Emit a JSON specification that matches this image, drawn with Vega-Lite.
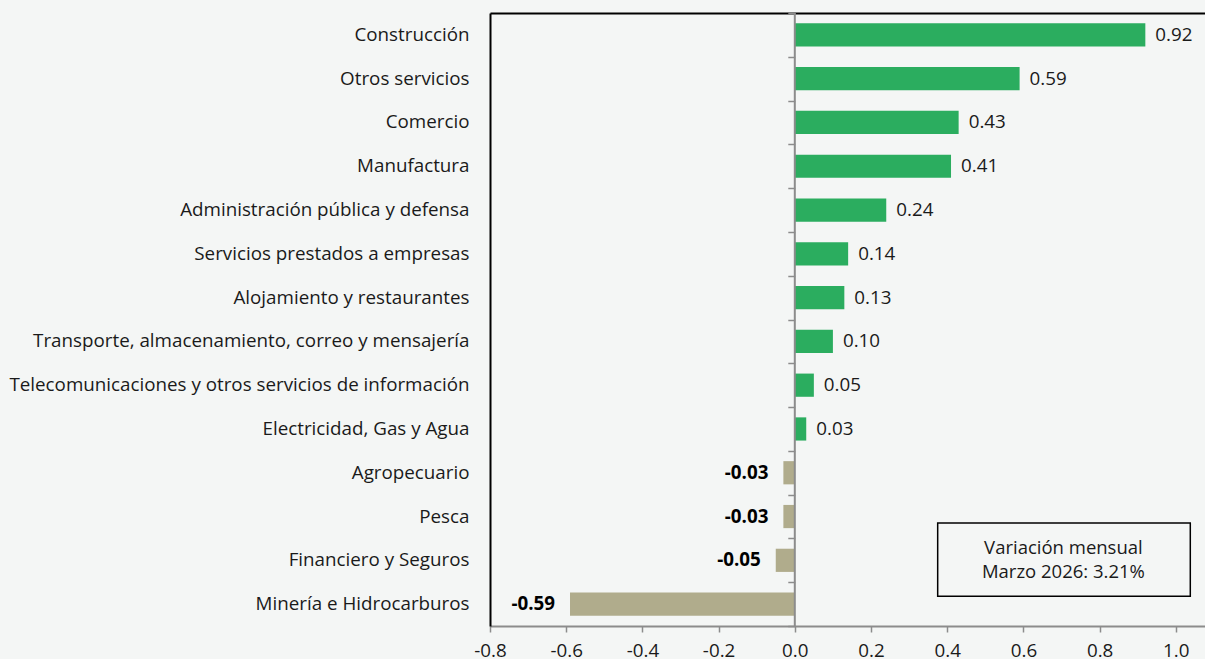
{
  "$schema": "https://vega.github.io/schema/vega-lite/v6.json",
  "width": 715,
  "height": 613,
  "autosize": {"type": "none"},
  "padding": {"left": 490, "top": 13, "right": 0, "bottom": 33},
  "background": "#f4f6f5",
  "view": {"stroke": null},
  "config": {
    "font": "Open Sans",
    "locale": {"number": {"decimal": ".", "thousands": ",", "grouping": [3], "currency": ["$", ""], "minus": "-"}}
  },
  "datasets": {
    "bars": [
      {"sector": "Construcción", "value": 0.92},
      {"sector": "Otros servicios", "value": 0.59},
      {"sector": "Comercio", "value": 0.43},
      {"sector": "Manufactura", "value": 0.41},
      {"sector": "Administración pública y defensa", "value": 0.24},
      {"sector": "Servicios prestados a empresas", "value": 0.14},
      {"sector": "Alojamiento y restaurantes", "value": 0.13},
      {"sector": "Transporte, almacenamiento, correo y mensajería", "value": 0.10},
      {"sector": "Telecomunicaciones y otros servicios de información", "value": 0.05},
      {"sector": "Electricidad, Gas y Agua", "value": 0.03},
      {"sector": "Agropecuario", "value": -0.03},
      {"sector": "Pesca", "value": -0.03},
      {"sector": "Financiero y Seguros", "value": -0.05},
      {"sector": "Minería e Hidrocarburos", "value": -0.59}
    ]
  },
  "resolve": {"axis": {"x": "independent", "y": "independent"}},
  "layer": [
    {
      "data": {"name": "bars"},
      "mark": {"type": "bar", "height": {"band": 0.53}},
      "encoding": {
        "y": {
          "field": "sector", "type": "nominal", "sort": null,
          "scale": {
            "domain": ["Construcción", "Otros servicios", "Comercio", "Manufactura", "Administración pública y defensa", "Servicios prestados a empresas", "Alojamiento y restaurantes", "Transporte, almacenamiento, correo y mensajería", "Telecomunicaciones y otros servicios de información", "Electricidad, Gas y Agua", "Agropecuario", "Pesca", "Financiero y Seguros", "Minería e Hidrocarburos"],
            "paddingInner": 0, "paddingOuter": 0
          },
          "axis": {
            "orient": "left", "title": null, "ticks": false, "domain": true,
            "domainColor": "#000000", "domainWidth": 2, "labelPadding": 21,
            "labelFontSize": 18.8, "labelColor": "#1a1a1a", "labelLimit": 0
          }
        },
        "x": {
          "field": "value", "type": "quantitative",
          "scale": {"domain": [-0.8, 1.0766], "nice": false, "zero": false},
          "axis": {
            "orient": "bottom", "title": null, "grid": false,
            "values": [-0.8, -0.6, -0.4, -0.2, 0, 0.2, 0.4, 0.6, 0.8, 1.0],
            "format": ".1f", "domainColor": "#8c8c8c", "domainWidth": 2,
            "tickColor": "#8c8c8c", "tickSize": 6, "tickWidth": 1.5,
            "labelFontSize": 18.8, "labelColor": "#1a1a1a", "labelPadding": 9,
            "labelFlush": false
          }
        },
        "color": {
          "condition": {"test": "datum.value < 0", "value": "#b0ac8c"},
          "value": "#2bad5f"
        }
      }
    },
    {
      "data": {"values": [{"z": 0}]},
      "mark": {"type": "rule", "color": "#8c8c8c", "strokeWidth": 2},
      "encoding": {
        "x": {"field": "z", "type": "quantitative", "axis": {"orient": "top", "title": null, "labels": false, "ticks": false, "grid": false, "domainColor": "#000000", "domainWidth": 2}}
      }
    },
    {
      "data": {"name": "bars"},
      "mark": {"type": "bar", "opacity": 0, "height": {"band": 0.53}},
      "encoding": {
        "y": {
          "field": "sector", "type": "nominal", "sort": null,
          "axis": {
            "orient": "left", "offset": -304.8, "title": null, "labels": false,
            "domain": false, "ticks": true, "tickBand": "extent",
            "tickColor": "#8c8c8c", "tickSize": 7, "tickWidth": 1.5
          }
        },
        "x": {"field": "value", "type": "quantitative", "axis": null}
      }
    },
    {
      "data": {"name": "bars"},
      "transform": [{"filter": "datum.value > 0"}],
      "mark": {"type": "text", "align": "left", "baseline": "middle", "dx": 10, "fontSize": 18.8, "color": "#1a1a1a"},
      "encoding": {
        "y": {"field": "sector", "type": "nominal", "sort": null, "axis": null},
        "x": {"field": "value", "type": "quantitative", "axis": null},
        "text": {"field": "value", "type": "quantitative", "format": ".2f"}
      }
    },
    {
      "data": {"name": "bars"},
      "transform": [{"filter": "datum.value < 0"}],
      "mark": {"type": "text", "align": "right", "baseline": "middle", "dx": -15, "fontSize": 18.8, "fontWeight": "bold", "color": "#000000"},
      "encoding": {
        "y": {"field": "sector", "type": "nominal", "sort": null, "axis": null},
        "x": {"field": "value", "type": "quantitative", "axis": null},
        "text": {"field": "value", "type": "quantitative", "format": ".2f"}
      }
    },
    {
      "data": {"values": [{"x1": 0.375, "x2": 1.038, "y1": "Pesca", "y2": "Minería e Hidrocarburos"}]},
      "mark": {"type": "rect", "fill": "#f4f6f5", "stroke": "#000000", "strokeWidth": 1.5},
      "encoding": {
        "x": {"field": "x1", "type": "quantitative", "axis": null},
        "x2": {"field": "x2"},
        "y": {"field": "y1", "type": "nominal", "bandPosition": 0.65, "axis": null},
        "y2": {"field": "y2", "bandPosition": 0.32}
      }
    },
    {
      "data": {"values": [{"x": 0.705, "y": "Financiero y Seguros", "t": ["Variación mensual", "Marzo 2026: 3.21%"]}]},
      "mark": {"type": "text", "align": "center", "baseline": "middle", "dy": -12, "fontSize": 18.5, "lineHeight": 24, "color": "#1a1a1a"},
      "encoding": {
        "x": {"field": "x", "type": "quantitative", "axis": null},
        "y": {"field": "y", "type": "nominal", "axis": null},
        "text": {"field": "t"}
      }
    }
  ]
}
